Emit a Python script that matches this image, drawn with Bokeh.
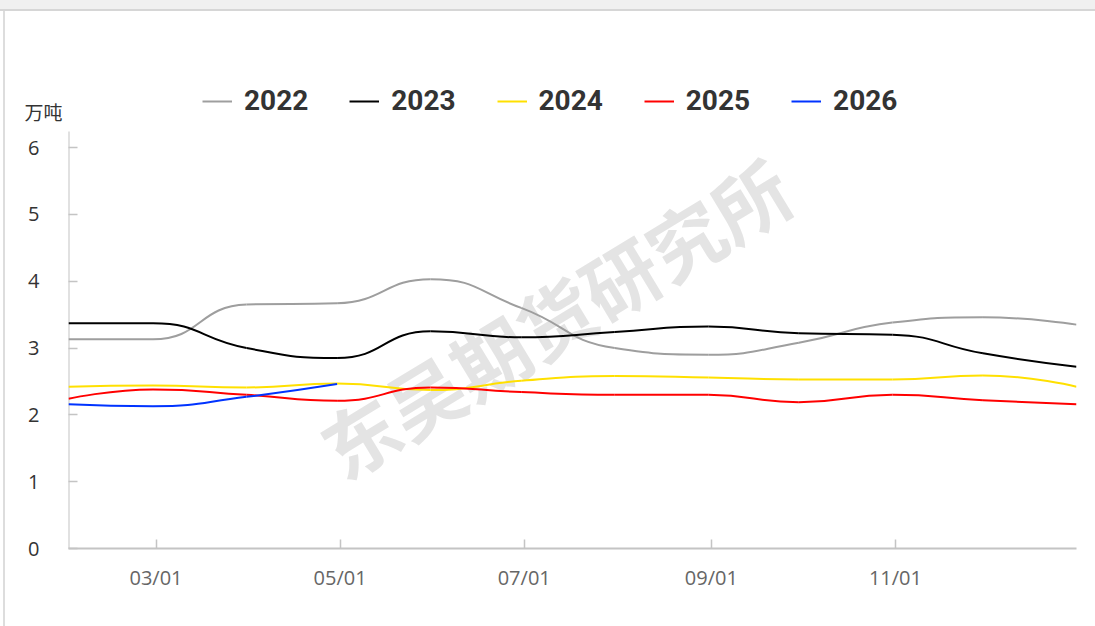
import math
import numpy as np
from bokeh.plotting import figure
from bokeh.models import (Range1d, FixedTicker, DatetimeTickFormatter, Legend,
                          LegendItem, Label, Title)
from bokeh.embed import file_html
from bokeh.resources import INLINE

# ---------------- data ----------------
dates = ["2026-01-31", "2026-02-28", "2026-03-31", "2026-04-30", "2026-05-31",
         "2026-06-30", "2026-07-31", "2026-08-31", "2026-09-30", "2026-10-31",
         "2026-11-30", "2026-12-31"]
s2022 = [3.13, 3.13, 3.65, 3.67, 4.03, 3.60, 3.00, 2.90, 3.08, 3.38, 3.46, 3.35]
s2023 = [3.37, 3.37, 3.00, 2.85, 3.25, 3.16, 3.24, 3.32, 3.22, 3.20, 2.92, 2.72]
s2024 = [2.42, 2.44, 2.41, 2.47, 2.37, 2.51, 2.58, 2.56, 2.53, 2.53, 2.59, 2.42]
s2025 = [2.24, 2.38, 2.30, 2.21, 2.41, 2.34, 2.30, 2.30, 2.19, 2.30, 2.22, 2.16]
s2026 = [2.16, 2.13, 2.27, 2.46]
series_names = ["2022", "2023", "2024", "2025", "2026"]
series_colors = ["#9e9e9e", "#000000", "#ffe000", "#ff0000", "#0033ff"]
tick_dates = ["2026-03-01", "2026-05-01", "2026-07-01", "2026-09-01", "2026-11-01"]
y_ticks = [0, 1, 2, 3, 4, 5, 6]
y_axis_top = 6.24
y_unit = "万吨"
watermark = "东吴期货研究所"

DAY = 86400000.0


def to_ms(d):
    return np.datetime64(d).astype("datetime64[ms]").astype("int64").astype(float)


xs_all = np.array([to_ms(d) for d in dates])
x0, x1 = xs_all[0], xs_all[-1]

# layout (pixels)
FIG_W, FIG_H = 1095, 626
FRAME_TOP = 53
FRAME_BOTTOM = 548
PX_PER_UNIT = 66.83
Y_END = (FRAME_BOTTOM - FRAME_TOP) / PX_PER_UNIT

# pixel-ish scale used only for curve smoothing (ECharts-like smooth)
KX = 1008.0 / ((x1 - x0) / DAY)
KY = PX_PER_UNIT


def smooth_segments(xs, ys, smooth=0.5):
    X = (np.asarray(xs) - x0) / DAY * KX
    Y = np.asarray(ys, dtype=float) * KY
    n = len(X)
    out = {k: [] for k in ["x0", "y0", "x1", "y1", "cx0", "cy0", "cx1", "cy1"]}
    cpx0, cpy0 = X[0], Y[0]
    for i in range(1, n):
        x, y = X[i], Y[i]
        if i < n - 1:
            px, py = X[i - 1], Y[i - 1]
            nx, ny = X[i + 1], Y[i + 1]
            vx, vy = nx - px, ny - py
            l0 = math.hypot(x - px, y - py)
            l1 = math.hypot(nx - x, ny - y)
            r = l1 / (l0 + l1)
            ncx = x + vx * smooth * r
            ncy = y + vy * smooth * r
            ncx = min(ncx, max(nx, x)); ncy = min(ncy, max(ny, y))
            ncx = max(ncx, min(nx, x)); ncy = max(ncy, min(ny, y))
            vx, vy = ncx - x, ncy - y
            cx1 = x - vx * l0 / l1
            cy1 = y - vy * l0 / l1
            cx1 = min(cx1, max(px, x)); cy1 = min(cy1, max(py, y))
            cx1 = max(cx1, min(px, x)); cy1 = max(cy1, min(py, y))
            vx, vy = x - cx1, y - cy1
            ncx = x + vx * l1 / l0
            ncy = y + vy * l1 / l0
        else:
            cx1, cy1 = x, y
            ncx, ncy = x, y
        out["x0"].append(X[i - 1]); out["y0"].append(Y[i - 1])
        out["x1"].append(x); out["y1"].append(y)
        out["cx0"].append(cpx0); out["cy0"].append(cpy0)
        out["cx1"].append(cx1); out["cy1"].append(cy1)
        cpx0, cpy0 = ncx, ncy
    for k in out:
        arr = np.array(out[k])
        if k.startswith("x") or k.startswith("cx"):
            out[k] = list(arr / KX * DAY + x0)
        else:
            out[k] = list(arr / KY)
    return out


# ---------------- figure ----------------
p = figure(width=FIG_W, height=FIG_H, x_axis_type="datetime",
           output_backend="svg", toolbar_location=None,
           x_range=Range1d(x0, x1), y_range=Range1d(0, Y_END),
           min_border_left=68, min_border_right=FIG_W - 68 - 1008,
           min_border_top=FRAME_TOP, min_border_bottom=FIG_H - FRAME_BOTTOM)
p.outline_line_color = None
p.xgrid.visible = False
p.ygrid.visible = False
p.background_fill_color = "white"
p.border_fill_alpha = 0
# card chrome: grey strip at the top and thin left border
p.styles = {
    "background": ("linear-gradient(to bottom, #f0f0f0 0px, #f0f0f0 9px, "
                   "#d6d6d6 9px, #d6d6d6 11px, rgba(255,255,255,0) 11px), "
                   "linear-gradient(to right, rgba(255,255,255,0) 3px, "
                   "#dddddd 3px, #dddddd 5px, rgba(255,255,255,0) 5px), "
                   "#ffffff"),
}

# watermark
p.add_layout(Label(x=to_ms("2026-07-11"), y=3.47, text=watermark,
                   angle=0.545, text_align="center", text_baseline="middle",
                   text_font="Noto Sans CJK SC", text_font_size="76px",
                   text_font_style="bold", text_color="#e4e4e4",
                   level="underlay"))

AXIS_COLOR = "#c4c4c4"
# visible part of the y axis line (the frame reaches up into the legend area)
p.segment(x0=[x0], y0=[0], x1=[x0], y1=[y_axis_top],
          line_color=AXIS_COLOR, line_width=2)

all_series = [s2022, s2023, s2024, s2025, s2026]
items = []
for name, col, ys in zip(series_names, series_colors, all_series):
    seg = smooth_segments(xs_all[:len(ys)], ys)
    r = p.bezier(x0=seg["x0"], y0=seg["y0"], x1=seg["x1"], y1=seg["y1"],
                 cx0=seg["cx0"], cy0=seg["cy0"], cx1=seg["cx1"], cy1=seg["cy1"],
                 line_color=col, line_width=2)
    items.append(LegendItem(label=name, renderers=[r]))

legend = Legend(items=items, orientation="horizontal",
                location=(134, FRAME_BOTTOM - 117),
                label_text_font="Roboto", label_text_font_size="28px",
                label_text_font_style="bold", label_text_color="#333333",
                glyph_width=30, glyph_height=20, label_standoff=12,
                spacing=41, padding=0, margin=0,
                border_line_color=None, background_fill_alpha=0)
p.add_layout(legend)

# unit label (title pushed down beside the top of the y axis)
unit_title = Title(text=y_unit, align="left", vertical_align="bottom",
                   offset=-44, standoff=-(2 * (124 - FRAME_TOP)),
                   text_font="Noto Sans CJK SC", text_font_size="19px",
                   text_font_style="normal", text_color="#333333")
p.add_layout(unit_title, "above")

# axes
for ax in (p.xaxis[0], p.yaxis[0]):
    ax.axis_line_color = AXIS_COLOR
    ax.axis_line_width = 2
    ax.major_tick_line_color = AXIS_COLOR
    ax.major_tick_line_width = 1.5
    ax.major_tick_in = 9
    ax.major_tick_out = 0
    ax.minor_tick_line_color = None
p.yaxis.axis_line_color = None

p.yaxis.ticker = FixedTicker(ticks=y_ticks)
p.yaxis.major_label_text_font = "Open Sans"
p.yaxis.major_label_text_font_size = "20px"
p.yaxis.major_label_text_color = "#333333"
p.yaxis.major_label_standoff = 29

p.xaxis.ticker = FixedTicker(ticks=[to_ms(d) for d in tick_dates])
p.xaxis.formatter = DatetimeTickFormatter(days="%m/%d", months="%m/%d",
                                          years="%m/%d", hours="%m/%d",
                                          context=None)
p.xaxis.major_label_text_font = "Open Sans"
p.xaxis.major_label_text_font_size = "20px"
p.xaxis.major_label_text_color = "#666666"
p.xaxis.major_label_standoff = 15

open("out.html", "w").write(file_html(p, INLINE))
